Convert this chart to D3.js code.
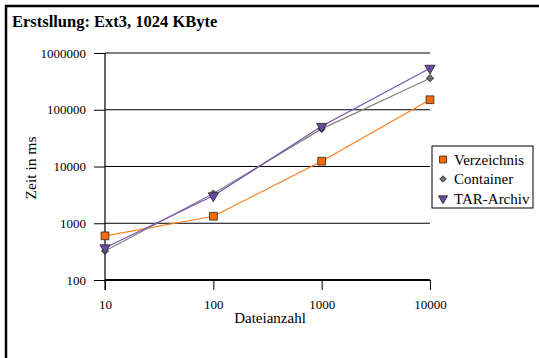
<!DOCTYPE html>
<html>
<head>
<meta charset="utf-8">
<script src="https://cdn.jsdelivr.net/npm/d3@7"></script>
<style>
  body { margin: 0; background: #fff; }
  text { font-family: "Liberation Serif", "Times New Roman", serif; fill: #000; }
</style>
</head>
<body>
<div id="chart"></div>
<script>
const dateianzahl = [10, 100, 1000, 10000];
const verzeichnis = [600, 1330, 12400, 150000];
const container = [325, 3330, 46000, 360000];
const tarArchiv = [370, 3050, 51000, 540000];
const yTicks = [100, 1000, 10000, 100000, 1000000];
const seriesNames = ["Verzeichnis", "Container", "TAR-Archiv"];

const width = 539, height = 358;
const svg = d3.select("#chart").append("svg")
  .attr("width", width).attr("height", height);

// outer frame (runs past the picture on right and bottom)
svg.append("rect")
  .attr("x", 6).attr("y", 6).attr("width", 540).attr("height", 360)
  .attr("fill", "none").attr("stroke", "#000").attr("stroke-width", 2.5);

svg.append("text")
  .attr("x", 12).attr("y", 27)
  .attr("font-size", "16.5px").attr("font-weight", "bold")
  .text("Erstsllung: Ext3, 1024 KByte");

const x = d3.scaleLog().domain([10, 10000]).range([105, 430]);
const y = d3.scaleLog().domain([100, 1000000]).range([280, 53]);

// horizontal grid
svg.append("g").selectAll("line").data(yTicks.slice(1)).join("line")
  .attr("x1", 105).attr("x2", 430)
  .attr("y1", d => y(d)).attr("y2", d => y(d))
  .attr("stroke", "#000").attr("stroke-width", 1);

// y axis
const yAxis = svg.append("g").attr("transform", "translate(105,0)")
  .call(d3.axisLeft(y).tickValues(yTicks).tickFormat(d3.format("d")).tickSize(11).tickPadding(8));
yAxis.attr("font-size", null).attr("font-family", null);
yAxis.select(".domain").remove();
yAxis.selectAll("line").attr("stroke", "#000");
yAxis.selectAll("text").style("font-size", "13px");
svg.append("line").attr("x1", 105).attr("x2", 105).attr("y1", y(1000000)).attr("y2", 290)
  .attr("stroke", "#000").attr("stroke-width", 1.2);

// x axis
const xAxis = svg.append("g").attr("transform", "translate(0,280)")
  .call(d3.axisBottom(x).tickValues(dateianzahl).tickFormat(d3.format("d")).tickSize(10).tickPadding(10));
xAxis.attr("font-size", null).attr("font-family", null);
xAxis.select(".domain").remove();
xAxis.selectAll("line").attr("stroke", "#000");
xAxis.selectAll("text").style("font-size", "13px");
svg.append("line").attr("x1", 105).attr("x2", 430).attr("y1", 280).attr("y2", 280)
  .attr("stroke", "#000").attr("stroke-width", 2);

svg.append("text").attr("x", 270).attr("y", 323).attr("text-anchor", "middle")
  .attr("font-size", "15px").text("Dateianzahl");
svg.append("text").attr("transform", "translate(36,168) rotate(-90)")
  .attr("text-anchor", "middle").attr("font-size", "15.5px").text("Zeit in ms");

const series = [
  { name: seriesNames[0], values: verzeichnis, line: "#ff7f1e", fill: "#ff6a00", shape: d3.symbolSquare, size: 60, rot: 0 },
  { name: seriesNames[1], values: container, line: "#808080", fill: "#707070", shape: d3.symbolSquare, size: 26, rot: 45 },
  { name: seriesNames[2], values: tarArchiv, line: "#7a52ac", fill: "#6a4aa0", shape: d3.symbolTriangle, size: 45, rot: 180 }
];

const line = d3.line().x(d => x(d[0])).y(d => y(d[1]));

series.forEach(s => {
  const pts = dateianzahl.map((d, i) => [d, s.values[i]]);
  svg.append("path").datum(pts).attr("d", line)
    .attr("fill", "none").attr("stroke", s.line).attr("stroke-width", 1.2);
});

series.forEach(s => {
  const pts = dateianzahl.map((d, i) => [d, s.values[i]]);
  svg.append("g").selectAll("path").data(pts).join("path")
    .attr("d", d3.symbol().type(s.shape).size(s.size))
    .attr("transform", d => `translate(${x(d[0])},${y(d[1])}) rotate(${s.rot})`)
    .attr("fill", s.fill).attr("stroke", "#222").attr("stroke-width", 0.8);
});

// legend
const legend = svg.append("g").attr("transform", "translate(432,146)");
legend.append("rect").attr("width", 101).attr("height", 62)
  .attr("fill", "#fff").attr("stroke", "#000").attr("stroke-width", 1);
series.forEach((s, i) => {
  const cy = 13.5 + i * 19.5;
  legend.append("path")
    .attr("d", d3.symbol().type(s.shape).size(s.size * 0.8))
    .attr("transform", `translate(11,${cy}) rotate(${s.rot})`)
    .attr("fill", s.fill).attr("stroke", "#222").attr("stroke-width", 0.8);
  legend.append("text").attr("x", 22).attr("y", cy + 5)
    .attr("font-size", "15px").text(s.name);
});
</script>
</body>
</html>
